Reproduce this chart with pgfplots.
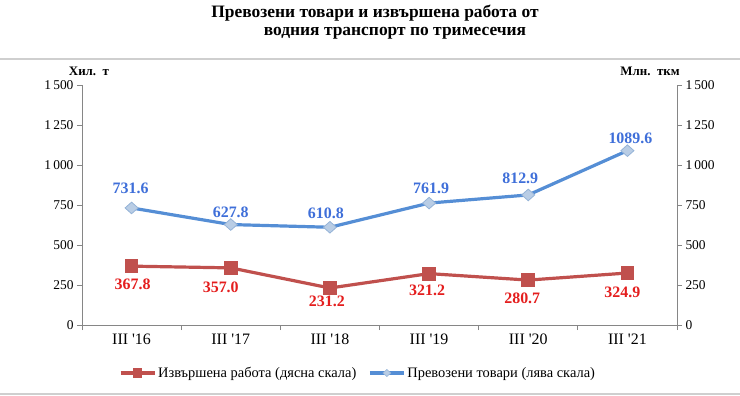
\documentclass[border=0pt]{standalone}
\usepackage{pgfplots}
\usepackage{pgfplotstable}
\pgfplotsset{compat=1.18}
\usepackage{fontspec}
\setmainfont{Liberation Serif}
\definecolor{bline}{HTML}{558ED5}
\definecolor{blab}{HTML}{3F6FD9}
\definecolor{bfill}{HTML}{B9CDE5}
\definecolor{bedge}{HTML}{95B3D7}
\definecolor{rline}{HTML}{C0504D}
\definecolor{rlab}{HTML}{E41E1E}
\definecolor{axgray}{HTML}{868686}
\definecolor{sepgray}{HTML}{CFCFCF}

\pgfplotsset{mylegimg/.style={legend image code/.code={%
  \draw[mark repeat=2, mark phase=2, ##1] plot coordinates {(0bp,0bp) (17bp,0bp) (34bp,0bp)};}}}

\pgfplotstableread{
x blue red bl bdx bdy rl rdx rdy
0 731.6 367.8 731.6 -1 19.4 367.8 1 -18.3
1 627.8 357.0 627.8 0 12.5 357.0 -10 -19.6
2 610.8 231.2 610.8 -4 14 231.2 -3 -13
3 761.9 321.2 761.9 2 14.5 321.2 -2 -16.4
4 812.9 280.7 812.9 -8 17 280.7 -6 -18
5 1089.6 324.9 1089.6 3 12.7 324.9 -5 -19
}\data

\begin{document}
\begin{tikzpicture}
\useasboundingbox (-82bp,-71bp) rectangle (658bp,325bp);
\draw[sepgray, line width=1.2bp] (-82bp,266bp) -- (658bp,266bp);
\draw[sepgray, line width=1.2bp] (-82bp,-69bp) -- (658bp,-69bp);
\node[font=\bfseries\fontsize{17.5}{20}\selectfont, anchor=base] at (293bp,307bp) {Превозени товари и извършена работа от};
\node[font=\bfseries\fontsize{17.5}{20}\selectfont, anchor=base] at (313bp,289bp) {водния транспорт по тримесечия};
\node[font=\bfseries\fontsize{13}{15}\selectfont] at (7bp,254bp) {Хил.\ \ т};
\node[font=\bfseries\fontsize{13}{15}\selectfont] at (568bp,254bp) {Млн.\ \ ткм};
\pgfplotsset{
  common/.style={
    scale only axis, width=595bp, height=240bp,
    at={(0,0)}, anchor=south west,
    xmin=-0.5, xmax=5.5, ymin=0, ymax=1500,
    ytick={0,250,...,1500},
    tick align=outside, major tick length=5bp,
    every tick/.style={axgray, line width=0.8bp},
    axis line style={axgray, line width=0.8bp},
    /pgf/number format/assume math mode=true,
    /pgf/number format/1000 sep={\,},
    yticklabel style={font=\fontsize{13.5}{15}\selectfont},
    clip=false,
  }
}
\begin{axis}[common,
  axis x line*=bottom, axis y line*=left,
  xtick={0,...,5},
  xticklabels={III \textquotesingle16,III \textquotesingle17,III \textquotesingle18,III \textquotesingle19,III \textquotesingle20,III \textquotesingle21},
  xticklabel style={font=\fontsize{16}{18}\selectfont},
  major x tick style={draw=none},
  minor xtick={-0.5,0.5,1.5,2.5,3.5,4.5,5.5},
  minor tick length=5bp,
  legend style={at={(0.464,-0.2)}, anchor=center, draw=none, fill=none,
    font=\fontsize{14.5}{16}\selectfont, legend columns=2,
    /tikz/every even column/.append style={column sep=10bp},
    legend cell align=left, inner sep=0pt},
]
\addlegendimage{rline, line width=3bp, mark=square*, mark size=3.2bp, mylegimg}
\addlegendentry{Извършена работа (дясна скала)}
\addlegendimage{bline, line width=3bp, mark=diamond*, mark size=3.5bp, mark options={fill=bfill, draw=bedge, line width=0.6bp, xscale=1.5}, mylegimg}
\addlegendentry{Превозени товари (лява скала)}
\addplot[bline, line width=3.2bp, mark=diamond*, mark size=5.8bp,
  mark options={fill=bfill, draw=bedge, line width=0.8bp, xscale=1.5},
  nodes near coords, point meta=explicit symbolic,
  visualization depends on={\thisrow{bdx} \as \dx},
  visualization depends on={\thisrow{bdy} \as \dy},
  nodes near coords style={anchor=center, xshift=\dx bp, yshift=\dy bp, text=blab,
    font=\bfseries\fontsize{16}{18}\selectfont},
  forget plot]
  table[x=x, y=blue, meta=bl] {\data};
\end{axis}
\begin{axis}[common,
  axis x line=none, axis y line*=right,
  xtick=\empty,
]
\addplot[rline, line width=3.2bp, mark=square*, mark size=5.3bp,
  mark options={solid},
  nodes near coords, point meta=explicit symbolic,
  visualization depends on={\thisrow{rdx} \as \dx},
  visualization depends on={\thisrow{rdy} \as \dy},
  nodes near coords style={anchor=center, xshift=\dx bp, yshift=\dy bp, text=rlab,
    font=\bfseries\fontsize{16}{18}\selectfont}]
  table[x=x, y=red, meta=rl] {\data};
\end{axis}
\end{tikzpicture}
\end{document}
